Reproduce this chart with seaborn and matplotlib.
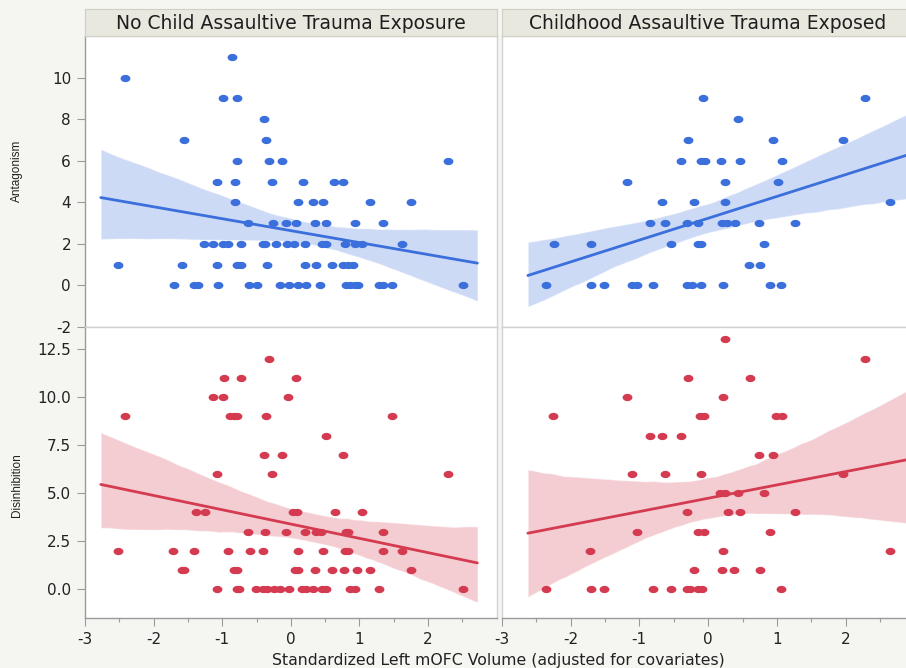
import numpy as np
import pandas as pd
import matplotlib
matplotlib.use("Agg")
import matplotlib.pyplot as plt
from matplotlib.path import Path
import seaborn as sns

# ---------------- data ----------------
groups = ["No Child Assaultive Trauma Exposure", "Childhood Assaultive Trauma Exposed"]
measures = ["Antagonism", "Disinhibition"]
x_label = "Standardized Left mOFC Volume (adjusted for covariates)"

# No child trauma, Antagonism
nc_ant_x = [-0.86, -2.42, -0.99, -0.79, -0.39, -1.55, -0.36,
            -0.78, -0.32, -0.13, 2.29,
            -1.08, -0.82, -0.27, 0.18, 0.63, 0.76,
            -0.81, 0.10, 0.32, 0.47, 1.16, 1.75,
            -0.62, -0.26, -0.07, 0.08, 0.36, 0.52, 0.93, 1.34,
            -1.26, -1.14, -0.99, -0.92, -0.72, -0.41, -0.37, -0.22, -0.05, 0.05, 0.21, 0.45, 0.51, 0.79, 0.93, 1.04, 1.62,
            -2.52, -1.59, -1.07, -0.79, -0.73, -0.35, 0.20, 0.37, 0.60, 0.76, 0.83, 0.91,
            -1.70, -1.41, -1.36, -1.06, -0.61, -0.50, -0.16, -0.02, 0.10, 0.22, 0.42, 0.80, 0.86, 0.93, 0.98, 1.28, 1.35, 1.47, 2.51]
nc_ant_y = [11, 10, 9, 9, 8, 7, 7,
            6, 6, 6, 6,
            5, 5, 5, 5, 5, 5,
            4, 4, 4, 4, 4, 4,
            3, 3, 3, 3, 3, 3, 3, 3,
            2, 2, 2, 2, 2, 2, 2, 2, 2, 2, 2, 2, 2, 2, 2, 2, 2,
            1, 1, 1, 1, 1, 1, 1, 1, 1, 1, 1, 1,
            0, 0, 0, 0, 0, 0, 0, 0, 0, 0, 0, 0, 0, 0, 0, 0, 0, 0, 0]

# Childhood trauma exposed, Antagonism
ce_ant_x = [-0.08, 2.28, 0.43, -0.29, 0.94, 1.96,
            -0.39, -0.11, -0.05, 0.19, 0.47, 1.07,
            -1.18, 0.24, 1.01,
            -0.67, -0.20, 0.25, 2.64,
            -0.85, -0.62, -0.31, -0.15, 0.20, 0.28, 0.39, 0.74, 1.27,
            -2.24, -1.70, -0.54, -0.14, -0.10, 0.81,
            0.60, 0.75,
            -2.36, -1.70, -1.51, -1.11, -1.04, -0.80, -0.31, -0.23, -0.10, 0.22, 0.90, 1.06]
ce_ant_y = [9, 9, 8, 7, 7, 7,
            6, 6, 6, 6, 6, 6,
            5, 5, 5,
            4, 4, 4, 4,
            3, 3, 3, 3, 3, 3, 3, 3, 3,
            2, 2, 2, 2, 2, 2,
            1, 1,
            0, 0, 0, 0, 0, 0, 0, 0, 0, 0, 0, 0]

# No child trauma, Disinhibition
nc_dis_x = [-0.32, -0.98, -0.72, 0.08, -1.14, -0.99, -0.04,
            -2.42, -0.88, -0.83, -0.78, -0.36, 1.47,
            0.52, -0.39, -0.13, 0.76,
            -1.08, -0.27, 2.29,
            -1.38, -1.25, 0.03, 0.09, 0.64, 1.04,
            -0.62, -0.37, -0.07, 0.21, 0.37, 0.44, 0.80, 0.84, 1.34,
            -2.52, -1.71, -1.41, -0.92, -0.60, -0.41, 0.11, 0.47, 0.79, 0.84, 1.34, 1.62,
            -1.59, -1.55, -0.83, -0.79, 0.06, 0.11, 0.35, 0.60, 0.78, 0.96, 1.16, 1.75,
            -1.07, -0.79, -0.75, -0.51, -0.40, -0.34, -0.25, -0.16, -0.02, 0.17, 0.22, 0.32, 0.46, 0.51, 0.87, 0.93, 1.28, 2.51]
nc_dis_y = [12, 11, 11, 11, 10, 10, 10,
            9, 9, 9, 9, 9, 9,
            8, 7, 7, 7,
            6, 6, 6,
            4, 4, 4, 4, 4, 4,
            3, 3, 3, 3, 3, 3, 3, 3, 3,
            2, 2, 2, 2, 2, 2, 2, 2, 2, 2, 2, 2,
            1, 1, 1, 1, 1, 1, 1, 1, 1, 1, 1, 1,
            0, 0, 0, 0, 0, 0, 0, 0, 0, 0, 0, 0, 0, 0, 0, 0, 0, 0]

# Childhood trauma exposed, Disinhibition
ce_dis_x = [0.24, 2.28, -0.29, 0.61, -1.18, 0.21,
            -2.25, -0.12, -0.06, 0.99, 1.07,
            -0.85, -0.67, -0.39, 0.74, 0.94,
            -1.11, -0.62, -0.10, 1.96,
            0.18, 0.24, 0.43, 0.81,
            -0.31, 0.29, 0.47, 1.27,
            -1.04, -0.15, -0.06, 0.90,
            -1.71, 0.22, 2.64,
            -0.20, 0.20, 0.38, 0.75,
            -2.36, -1.70, -1.51, -0.80, -0.54, -0.31, -0.26, -0.14, -0.09, 1.06]
ce_dis_y = [13, 12, 11, 11, 10, 10,
            9, 9, 9, 9, 9,
            8, 8, 8, 7, 7,
            6, 6, 6, 6,
            5, 5, 5, 5,
            4, 4, 4, 4,
            3, 3, 3, 3,
            2, 2, 2,
            1, 1, 1, 1,
            0, 0, 0, 0, 0, 0, 0, 0, 0, 0]

# ---------------- style ----------------
sns.set_style("white")
plt.rcParams["font.family"] = ["DejaVu Sans"]
plt.rcParams["axes.unicode_minus"] = False

BLUE = "#3b6fdc"
RED = "#d43b50"
FIG_BG = "#f5f5f1"
STRIP_BG = "#e8e8df"
SPINE = "#d2d2d2"
AXIS = "#9a9a9a"

W, H = 906, 668
fig = plt.figure(figsize=(W / 100, H / 100), dpi=100, facecolor=FIG_BG)

def fx(px):
    return px / W

def fy(py):
    return 1 - py / H

col_x = [(85, 496.6), (501.7, 914.5)]
row_y = [(36, 327), (327, 618)]
ylims = [(-2, 12), (-1.5, 13.65)]
line_ext = [(-2.77, 2.72), (-2.62, 3.0)]

ell = np.linspace(0, 2 * np.pi, 40)
ellipse_marker = Path(np.column_stack([1.35 * np.cos(ell), np.sin(ell)]), closed=False)

panel_data = {
    (0, 0): (nc_ant_x, nc_ant_y),
    (0, 1): (ce_ant_x, ce_ant_y),
    (1, 0): (nc_dis_x, nc_dis_y),
    (1, 1): (ce_dis_x, ce_dis_y),
}

for r in range(2):
    color = BLUE if r == 0 else RED
    for c in range(2):
        x0, x1 = col_x[c]
        y0, y1 = row_y[r]
        ax = fig.add_axes([fx(x0), fy(y1), fx(x1 - x0), (y1 - y0) / H])
        ax.set_facecolor("white")
        xs, ys = panel_data[(r, c)]
        df = pd.DataFrame({"x": xs, "y": ys})
        ax.set_xlim(*line_ext[c])
        sns.regplot(data=df, x="x", y="y", ax=ax, color=color, truncate=False,
                    marker=ellipse_marker, n_boot=1000, seed=3,
                    scatter_kws={"s": 50, "alpha": 1, "linewidths": 0, "zorder": 3},
                    line_kws={"lw": 2.0, "zorder": 2})
        for coll in ax.collections:
            if coll.__class__.__name__ == "PolyCollection" or "Fill" in coll.__class__.__name__:
                coll.set_alpha(0.25)
                coll.set_zorder(1)
        ax.set_xlim(-3, 3)
        ax.set_ylim(*ylims[r])
        ax.set_xlabel("")
        ax.set_ylabel("")
        for s in ax.spines.values():
            s.set_color(SPINE)
            s.set_linewidth(1.0)
        # y ticks
        if r == 0:
            ax.set_yticks([-2, 0, 2, 4, 6, 8, 10])
            ax.set_yticklabels(["-2", "0", "2", "4", "6", "8", "10"])
        else:
            ax.set_yticks([0, 2.5, 5, 7.5, 10, 12.5])
            ax.set_yticklabels(["0.0", "2.5", "5.0", "7.5", "10.0", "12.5"])
        if c == 0:
            ax.spines["left"].set_color(AXIS)
            ax.tick_params(axis="y", left=True, length=6, width=0.8, color=AXIS,
                           pad=4, labelsize=11, labelcolor="#222222")
        else:
            ax.tick_params(axis="y", left=False, labelleft=False)
        # x ticks
        ax.set_xticks([-3, -2, -1, 0, 1, 2])
        ax.set_xticks(np.arange(-2.5, 3.0, 1.0), minor=True)
        if r == 1:
            ax.spines["bottom"].set_color(AXIS)
            ax.set_xticklabels(["-3", "-2", "-1", "0", "1", "2"])
            ax.tick_params(axis="x", which="major", bottom=True, length=6, width=0.8,
                           color=AXIS, labelsize=11, labelcolor="#222222", pad=4)
            ax.tick_params(axis="x", which="minor", bottom=True, length=3, width=0.8,
                           color=AXIS)
        else:
            ax.tick_params(axis="x", which="both", bottom=False, labelbottom=False)

# header strips
for c in range(2):
    x0, x1 = col_x[c]
    hax = fig.add_axes([fx(x0), fy(36), fx(x1 - x0), 27 / H])
    hax.set_facecolor(STRIP_BG)
    hax.set_xticks([])
    hax.set_yticks([])
    for s in hax.spines.values():
        s.set_color("#cfcfc6")
        s.set_linewidth(0.8)
    tx = 0.5 if c == 0 else (707.7 - x0) / (x1 - x0)
    hax.text(tx, 0.45, groups[c], transform=hax.transAxes, ha="center", va="center",
             fontsize=13.5, color="#1e1e1e")

# axis titles
fig.text(fx(17), fy(171), measures[0], rotation=90, ha="center", va="center",
         fontsize=8.5, family=["Liberation Sans", "DejaVu Sans"], color="#222222")
fig.text(fx(17), fy(485), measures[1], rotation=90, ha="center", va="center",
         fontsize=8.5, family=["Liberation Sans", "DejaVu Sans"], color="#222222")
fig.text(fx(498), fy(660), x_label, ha="center", va="center",
         fontsize=11.3, color="#222222")

fig.savefig("out.png", dpi=100, facecolor=FIG_BG)
